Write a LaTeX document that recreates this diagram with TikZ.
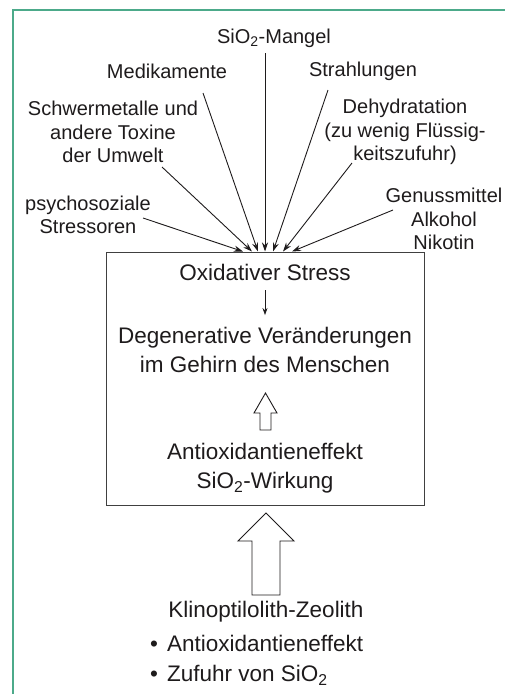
\documentclass[tikz,border=0pt]{standalone}
\usepackage{fontspec}
\setmainfont{Liberation Sans}
\usetikzlibrary{arrows.meta}

\definecolor{framegreen}{RGB}{76,170,138}
\definecolor{ink}{RGB}{30,27,28}

\begin{document}
\begin{tikzpicture}[x=1pt,y=-1pt,
	cause/.style={align=center,font=\fontsize{20}{23.5}\selectfont,text=ink,inner sep=1pt},
	inbox/.style={align=center,font=\fontsize{22.5}{29}\selectfont,text=ink,inner sep=1pt},
	hit/.style={-{Stealth[length=9pt,width=6pt]},draw=ink,line width=0.9pt},
	hollow/.style={draw=ink,line width=0.9pt,fill=white,line join=miter}]
	\useasboundingbox (0,0) rectangle (505,694);
	\draw[framegreen,line width=2.2pt] (13,694) -- (13,10) -- (505,10);

	\node[draw=black!75,line width=1pt,minimum width=318pt,minimum height=253pt,inner sep=0pt] (box) at (265,378.5) {};

	% causes
	\node[cause] (sio) at (274,38) {SiO\textsubscript{2}-Mangel};
	\node[cause] (medi) at (167,71) {Medikamente};
	\node[cause] (strahl) at (363,71) {Strahlungen};
	\node[cause] (schwer) at (113,132) {Schwermetalle und\\andere Toxine\\der Umwelt};
	\node[cause] (dehyd) at (405,132) {Dehydratation\\(zu wenig Flüssig-\\keitszufuhr)};
	\node[cause] (psy) at (88,215) {psychosoziale\\Stressoren};
	\node[cause] (genuss) at (444,219) {Genussmittel\\Alkohol\\Nikotin};

	\draw[hit] ([shift={(55pt,-3pt)}]psy.center) -- ([xshift=-22pt]box.north);
	\draw[hit] ([shift={(49pt,-35pt)}]schwer.center) -- ([xshift=-13pt]box.north);
	\draw[hit] ([shift={(36pt,-22pt)}]medi.center) -- ([xshift=-7pt]box.north);
	\draw[hit] ([shift={(-9pt,-15pt)}]sio.center) -- (box.north);
	\draw[hit] ([shift={(-35pt,-19pt)}]strahl.center) -- ([xshift=8pt]box.north);
	\draw[hit] ([shift={(-53pt,-31pt)}]dehyd.center) -- ([xshift=18pt]box.north);
	\draw[hit] ([shift={(-51pt,9pt)}]genuss.center) -- ([xshift=27pt]box.north);

	% inside the box
	\node[inbox] (oxi) at (265,272) {Oxidativer Stress};
	\node[inbox] (degen) at (265,350) {Degenerative Veränderungen\\im Gehirn des Menschen};
	\node[inbox] (antiox) at (265,468) {Antioxidantieneffekt\\SiO\textsubscript{2}-Wirkung};

	\draw[-{Stealth[length=7pt,width=5pt]},draw=ink,line width=0.7pt,shorten <=9pt,shorten >=11pt] (oxi) -- (degen);

	\coordinate (uptip) at (265.5,393);
	\draw[hollow] (uptip) -- ++(11.5,20) -- ++(-6,0) -- ++(0,17) -- ++(-11,0) -- ++(0,-17) -- ++(-6,0) -- cycle;

	% zeolith
	\coordinate (bigtip) at (266,513);
	\draw[hollow] (bigtip) -- ++(28,28) -- ++(-14,0) -- ++(0,54) -- ++(-28,0) -- ++(0,-54) -- ++(-14,0) -- cycle;

	\node[inbox] (klino) at (266,612) {Klinoptilolith-Zeolith};
	\node[inbox,anchor=west] (pt1) at (149,643) {\textbullet\hspace{9pt}Antioxidantieneffekt};
	\node[inbox,anchor=west] (pt2) at (149,675) {\textbullet\hspace{9pt}Zufuhr von SiO\textsubscript{2}};
\end{tikzpicture}
\end{document}
